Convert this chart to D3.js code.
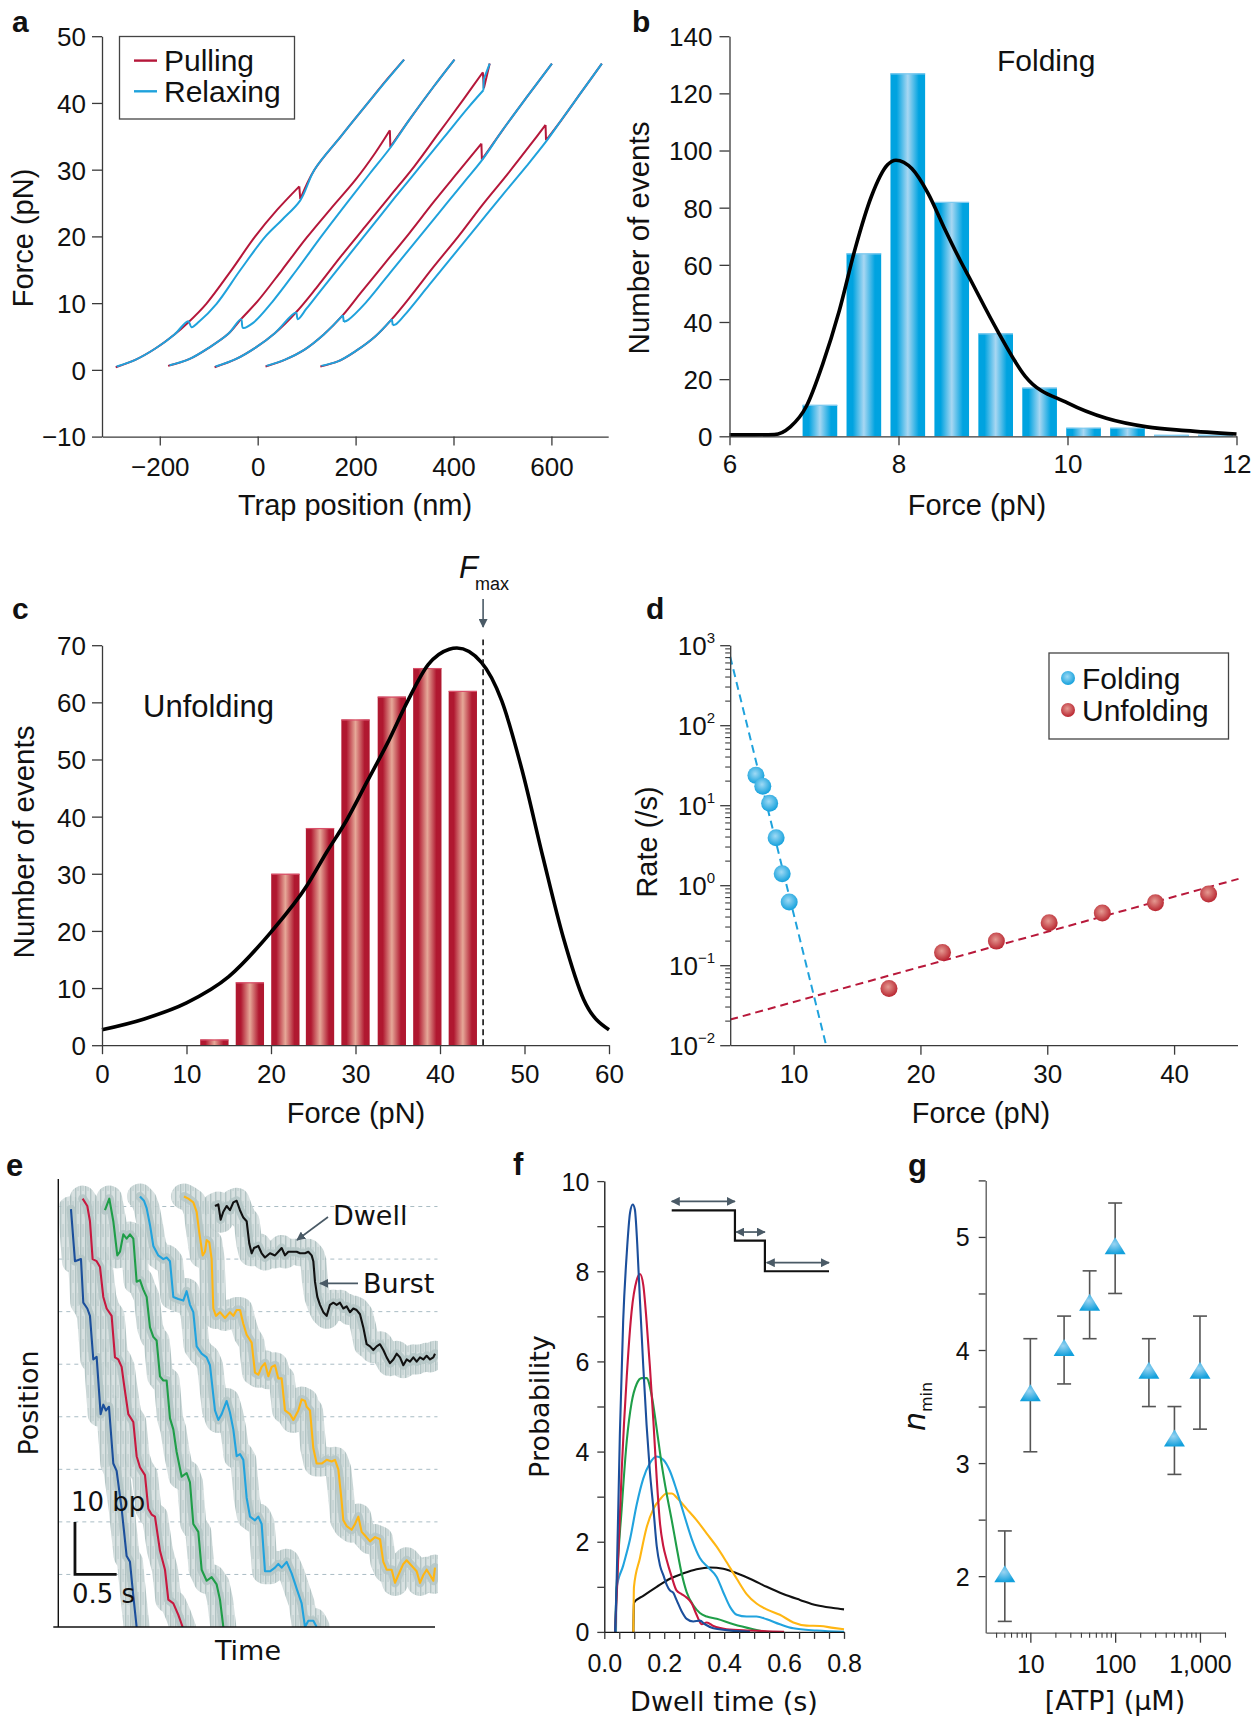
<!DOCTYPE html>
<html><head><meta charset="utf-8">
<script src="https://cdn.jsdelivr.net/npm/d3@7"></script>
<style>body{margin:0;background:#fff}svg{display:block}</style>
</head><body>
<svg id="c" width="1256" height="1724"></svg>
<script>
// ---------------- DATA ----------------
// panel a: force-extension cycles [trap position nm, force pN]
const aPull1 = [[-290,0.4],[-250,1.5],[-209,3.2],[-170,5.3],[-142,7.1],[-105,9.9],[-55,14.8],[-5,20],[40,24],[85,27.5],[87,25.6],[116,30],[170,35],[224,39.9],[265,43.6],[299,46.5]];
const aRelax1 = [[299,46.5],[224,39.9],[170,35],[116,30],[87,25.4],[50,22.5],[16,20],[-35,15],[-84,9.9],[-120,7.2],[-135,6.4],[-142,7.3],[-170,5.3],[-209,3.2],[-250,1.5],[-288,0.5]];
const aPull2 = [[-183,0.6],[-140,1.6],[-100,3.3],[-60,5.4],[-34,7.6],[0,10.3],[50,15],[100,19.8],[150,24.2],[200,28.5],[240,32.5],[270,35.9],[271,33.4],[310,37.5],[360,42.5],[402,46.5]];
const aRelax2 = [[402,46.5],[360,42.5],[310,37.5],[272,33.4],[230,29.5],[180,24.8],[130,20],[80,15],[30,10.2],[-10,7],[-30,6.3],[-34,7.6],[-60,5.4],[-100,3.3],[-140,1.6],[-180,0.7]];
const aPull3 = [[-88,0.4],[-45,1.6],[-5,3.3],[35,5.5],[78,8.6],[120,12.3],[170,17],[220,21.5],[270,26],[320,30.5],[370,35.5],[420,40.5],[460,44.6],[462,42.2],[474,45.9]];
const aRelax3 = [[474,45.9],[462,43.6],[461,41.9],[430,39.3],[380,34.8],[330,30.3],[280,25.8],[230,21.2],[180,16.6],[130,12],[100,9.2],[82,7.6],[78,8.6],[35,5.5],[-5,3.3],[-45,1.6],[-86,0.5]];
const aPull4 = [[16,0.5],[55,1.5],[95,3],[135,5.3],[174,8.2],[210,11.5],[260,16],[310,20.5],[360,25.2],[410,29.7],[457,33.9],[458,31.5],[500,35.9],[550,40.9],[601,45.9]];
const aRelax4 = [[601,45.9],[550,40.9],[500,35.9],[459,31.5],[420,28],[370,23.5],[320,19],[270,14.5],[220,10],[185,7.5],[176,7.2],[174,8.2],[135,5.3],[95,3],[55,1.5],[18,0.6]];
const aPull5 = [[128,0.5],[165,1.3],[200,2.8],[240,5],[274,7.6],[310,10.8],[360,15.5],[410,20],[460,24.8],[510,29.3],[560,34],[588,36.7],[589,34.4],[620,37.4],[660,41.5],[703,45.9]];
const aRelax5 = [[703,45.9],[660,41.5],[620,37.4],[590,34.3],[550,30.6],[500,26.2],[450,21.7],[400,17.2],[350,12.7],[300,8.2],[282,6.8],[276,6.7],[274,7.6],[240,5],[200,2.8],[165,1.3],[130,0.6]];
const aXTicks = [-200,0,200,400,600];
const aYTicks = [-10,0,10,20,30,40,50];

// panel b: folding force histogram
const bBinCenters = [7.07,7.59,8.11,8.63,9.15,9.67,10.19,10.71,11.23,11.75];
const bCounts = [11,64,127,82,36,17,3,3,0.5,0.5];
const bFitF = [6,6.3,6.53,6.72,6.91,7.1,7.3,7.49,7.68,7.87,7.97,8.16,8.35,8.54,8.74,8.83,9.17,9.5,10,10.46,10.94,11.4,12];
const bFitN = [0.5,0.5,0.6,3.3,10.5,25,44,66,84,95,96.6,93.6,85,73,61,56,37,21,11.7,6.3,3.3,2,0.8];
const bXTicks = [6,8,10,12];
const bYTicks = [0,20,40,60,80,100,120,140];

// panel c: unfolding force histogram
const cBinCenters = [13.3,17.5,21.7,25.8,30.0,34.3,38.5,42.7];
const cCounts = [1,11,30,38,57,61,66,62];
const cFitF = [0,5,10,15,20,24.2,26.6,29,31.4,33.8,36.2,38.6,41.1,42,44.9,47.3,49.7,52.2,54.6,57,60];
const cFitN = [2.7,4.6,7.4,12,19.8,27.8,33.8,39.5,46.2,52.9,60.3,66.6,69.3,69.5,67,60.3,48.2,32.8,18.8,8,2.7];
const cFmax = 45.1;
const cXTicks = [0,10,20,30,40,50,60];
const cYTicks = [0,10,20,30,40,50,60,70];

// panel d: rates
const dFoldF = [7.03,7.57,8.11,8.62,9.10,9.65];
const dFoldRate = [23.6,17.3,10.6,3.92,1.39,0.616];
const dUnfoldF = [17.52,21.74,25.99,30.15,34.34,38.53,42.72];
const dUnfoldRate = [0.051,0.144,0.2,0.34,0.448,0.603,0.776];
const dFoldFit = [[5.0,718],[12.56,0.01]];
const dUnfoldFit = [[5.0,0.0209],[45.08,1.2]];
const dXTicks = [10,20,30,40];
const dYExp = [-2,-1,0,1,2,3];

// panel e: traces [time s, position bp]
const eDarkBlue = [[0.152,79.5],[0.2,69.6],[0.272,70.0],[0.3,61.7],[0.348,60.6],[0.38,59.2],[0.42,50.9],[0.46,51.4],[0.508,40.5],[0.54,42.3],[0.572,41.2],[0.608,41.9],[0.66,31.1],[0.7,29.7],[0.76,22.5],[0.82,13.5],[0.86,12.4],[0.9,5.9],[0.94,0]];
const eRed = [[0.292,81.5],[0.348,80.1],[0.38,77.2],[0.412,70.0],[0.46,69.6],[0.5,68.5],[0.54,62.8],[0.58,60.6],[0.64,59.2],[0.68,51.3],[0.72,50.9],[0.76,49.5],[0.788,46.2],[0.84,40.5],[0.9,39.0],[0.94,32.5],[0.98,30.4],[1.04,28.9],[1.08,22.5],[1.12,21.4],[1.16,21.0],[1.22,14.5],[1.28,10.9],[1.32,5.2],[1.38,4.5],[1.44,2.3],[1.492,0]];
const eGreen = [[0.56,79.3],[0.612,81.5],[0.66,77.2],[0.708,70.7],[0.74,71.4],[0.78,74.7],[0.82,73.9],[0.86,74.7],[0.9,73.9],[0.94,65.7],[0.98,66.0],[1.02,64.2],[1.06,62.8],[1.1,57.0],[1.14,55.2],[1.18,54.5],[1.22,47.7],[1.26,46.9],[1.3,46.9],[1.34,39.7],[1.38,37.6],[1.42,33.3],[1.48,28.6],[1.54,29.3],[1.58,27.5],[1.62,19.6],[1.68,18.1],[1.72,10.9],[1.78,8.8],[1.84,9.5],[1.9,8.1],[1.94,5.2],[1.98,0]];
const eLightBlue = [[0.98,81.9],[1.028,81.1],[1.06,79.7],[1.1,76.5],[1.14,72.5],[1.2,70.7],[1.26,70.0],[1.3,70.3],[1.34,69.6],[1.38,62.8],[1.44,62.4],[1.5,62.1],[1.54,63.9],[1.58,61.3],[1.62,59.9],[1.66,53.4],[1.72,52.0],[1.78,51.3],[1.82,49.8],[1.88,41.2],[1.92,39.4],[1.96,40.5],[2.02,43.0],[2.06,40.8],[2.1,37.6],[2.14,32.5],[2.18,32.9],[2.22,31.8],[2.26,24.6],[2.3,21.0],[2.36,20.3],[2.4,21.0],[2.44,19.6],[2.48,10.6],[2.54,10.6],[2.6,11.3],[2.64,12.0],[2.68,11.3],[2.74,12.4],[2.8,10.2],[2.86,7.3],[2.92,4.5],[2.96,0],[3.0,1.2],[3.06,1.2],[3.1,0]];
const eYellow = [[1.508,81.9],[1.56,81.5],[1.62,80.8],[1.66,79.0],[1.692,75.0],[1.732,70.7],[1.76,71.4],[1.78,73.6],[1.812,73.2],[1.84,70.0],[1.86,60.6],[1.892,59.2],[1.94,59.9],[2.0,58.8],[2.06,59.9],[2.1,59.2],[2.14,60.3],[2.18,60.3],[2.22,57.7],[2.26,55.6],[2.32,54.1],[2.36,48.4],[2.4,48.0],[2.44,49.5],[2.48,50.2],[2.52,47.7],[2.56,49.5],[2.6,49.8],[2.64,47.3],[2.68,47.3],[2.72,41.2],[2.78,40.5],[2.82,39.4],[2.88,41.2],[2.92,43.3],[2.96,43.0],[2.98,41.9],[3.02,41.2],[3.06,34.0],[3.1,31.1],[3.16,31.1],[3.22,31.8],[3.28,31.5],[3.32,31.8],[3.36,30.0],[3.4,23.9],[3.42,20.3],[3.46,19.2],[3.52,18.5],[3.56,19.6],[3.6,21.0],[3.64,18.1],[3.68,17.4],[3.74,16.3],[3.8,17.1],[3.86,16.7],[3.9,12.4],[3.94,10.9],[4.0,10.9],[4.04,8.4],[4.08,9.9],[4.14,12.0],[4.18,12.7],[4.22,12.0],[4.3,10.6],[4.34,8.4],[4.38,9.9],[4.42,10.9],[4.46,9.9],[4.5,8.8],[4.52,11.3]];
const eBlack = [[1.88,80.1],[1.92,80.4],[1.948,77.5],[1.98,79.0],[2.02,80.1],[2.06,79.3],[2.1,80.8],[2.14,81.1],[2.18,79.3],[2.22,77.9],[2.26,77.2],[2.292,72.9],[2.32,71.1],[2.348,72.1],[2.4,72.5],[2.44,71.1],[2.48,70.3],[2.54,71.1],[2.6,70.7],[2.64,71.4],[2.68,72.1],[2.72,70.7],[2.76,71.4],[2.82,71.4],[2.86,71.4],[2.9,71.1],[2.96,71.1],[3.0,71.4],[3.04,70.7],[3.06,69.6],[3.08,65.7],[3.108,62.8],[3.14,61.3],[3.18,59.9],[3.22,59.2],[3.26,61.3],[3.3,61.7],[3.34,61.3],[3.38,61.7],[3.42,60.6],[3.46,61.0],[3.5,59.9],[3.54,60.6],[3.58,60.3],[3.62,59.5],[3.66,57.0],[3.7,53.8],[3.74,53.4],[3.78,52.7],[3.82,53.4],[3.86,53.8],[3.9,52.7],[3.94,51.3],[3.98,50.2],[4.02,50.9],[4.06,52.0],[4.1,51.3],[4.14,49.8],[4.18,50.9],[4.22,50.5],[4.26,51.3],[4.3,50.5],[4.34,51.3],[4.38,50.9],[4.42,51.6],[4.46,50.9],[4.5,51.3],[4.52,52.0]];
const eGridBp = [10,20,30,40,50,60,70,80];

// panel f: dwell-time distributions [time s, probability]
const fDarkBlue = [[0.036,0],[0.041,1.05],[0.052,4.4],[0.063,6.9],[0.075,8.4],[0.086,9.3],[0.095,9.48],[0.102,9.37],[0.11,8.6],[0.119,7.35],[0.13,5.9],[0.141,4.6],[0.152,3.57],[0.164,2.73],[0.175,1.9],[0.186,1.47],[0.197,1.26],[0.208,1.05],[0.219,0.92],[0.23,0.87],[0.241,0.71],[0.258,0.46],[0.275,0.29],[0.297,0.23],[0.319,0.25],[0.336,0.17],[0.364,0.08],[0.408,0.04],[0.486,0]];
const fRed = [[0.036,0],[0.043,1.05],[0.058,3.57],[0.075,5.67],[0.091,7.1],[0.108,7.8],[0.119,7.94],[0.13,7.7],[0.141,6.9],[0.152,5.9],[0.164,4.66],[0.175,3.4],[0.186,2.4],[0.197,1.9],[0.208,1.6],[0.225,1.22],[0.241,0.92],[0.258,0.84],[0.275,0.76],[0.292,0.63],[0.308,0.38],[0.325,0.17],[0.342,0.21],[0.364,0.13],[0.408,0.06],[0.486,0.03],[0.6,0]];
const fGreen = [[0.036,0],[0.041,0.97],[0.058,2.73],[0.075,4.24],[0.091,5.08],[0.108,5.5],[0.125,5.63],[0.141,5.63],[0.158,5.25],[0.175,4.5],[0.191,3.74],[0.208,3.07],[0.225,2.48],[0.241,1.89],[0.258,1.3],[0.275,0.88],[0.297,0.59],[0.319,0.42],[0.342,0.34],[0.375,0.29],[0.431,0.17],[0.497,0.06],[0.54,0]];
const fLightBlue = [[0.039,0],[0.041,0.97],[0.063,1.47],[0.086,2.06],[0.108,2.82],[0.13,3.4],[0.152,3.74],[0.175,3.89],[0.197,3.82],[0.219,3.57],[0.241,3.15],[0.264,2.65],[0.292,2.06],[0.319,1.64],[0.347,1.43],[0.375,1.22],[0.397,0.88],[0.42,0.55],[0.442,0.38],[0.475,0.34],[0.508,0.34],[0.542,0.28],[0.586,0.17],[0.631,0.08],[0.709,0.03],[0.8,0]];
const fYellow = [[0.097,0],[0.099,1.0],[0.119,1.64],[0.141,2.31],[0.164,2.73],[0.186,2.94],[0.208,3.07],[0.225,3.07],[0.247,2.94],[0.275,2.73],[0.308,2.48],[0.342,2.18],[0.375,1.89],[0.408,1.55],[0.442,1.18],[0.475,0.84],[0.508,0.63],[0.542,0.5],[0.586,0.38],[0.631,0.21],[0.675,0.14],[0.72,0.13],[0.764,0.09],[0.8,0.06]];
const fBlack = [[0.097,0],[0.099,0.65],[0.13,0.8],[0.175,1.0],[0.219,1.18],[0.264,1.3],[0.308,1.39],[0.353,1.43],[0.397,1.4],[0.442,1.3],[0.486,1.18],[0.542,1.0],[0.597,0.84],[0.653,0.71],[0.709,0.59],[0.764,0.53],[0.8,0.5]];
const fStepT = [0.225,0.436,0.436,0.536,0.536,0.75];
const fStepP = [9.35,9.35,8.68,8.68,8.0,8.0];
const fArrows = [[0.225,0.436,9.55],[0.44,0.536,8.87],[0.542,0.75,8.19]];
const fXTicks = [0,0.2,0.4,0.6,0.8];
const fYTicks = [0,2,4,6,8,10];

// panel g: n_min vs ATP
const gATP = [5,10,25,50,100,250,500,1000];
const gNmin = [2.0,3.6,4.0,4.4,4.9,3.8,3.2,3.8];
const gLow = [1.6,3.1,3.7,4.1,4.5,3.5,2.9,3.3];
const gHigh = [2.4,4.1,4.3,4.7,5.3,4.1,3.5,4.3];
const gXTicks = [10,100,1000];
const gYTicks = [2,3,4,5];

// ---------------- DRAWING ----------------
const svg = d3.select('#c');
const SANS = '"Liberation Sans",Arial,sans-serif';
const LUC = '"DejaVu Sans","Noto Sans",sans-serif';
const AX = '#3a3a3a';
const COL = {pull:'#b5173a', relax:'#1fa2dc', dblue:'#1b4f9c', red:'#c8183f', green:'#1f9e48', lblue:'#21a3de', yellow:'#ffb612', black:'#111'};

const defs = svg.append('defs');
function hgrad(id, edge, mid){
  const g = defs.append('linearGradient').attr('id',id).attr('x1','0').attr('x2','1').attr('y1','0').attr('y2','0');
  [[0,edge],[0.18,edge],[0.5,mid],[0.82,edge],[1,edge]].forEach(s=>g.append('stop').attr('offset',s[0]).attr('stop-color',s[1]));
}
hgrad('gb','#00a3e0','#a8d7f2');
hgrad('gc','#b01830','#e6a898');
function rgrad(id, light, dark){
  const g = defs.append('radialGradient').attr('id',id).attr('cx','0.45').attr('cy','0.4').attr('r','0.6');
  g.append('stop').attr('offset',0).attr('stop-color',light);
  g.append('stop').attr('offset',1).attr('stop-color',dark);
}
rgrad('rb','#9fdaf5','#12a0dc');
rgrad('rr','#e59a92','#b8242f');
rgrad('rt','#9ad4f2','#12a0dc');
defs.append('marker').attr('id','arr').attr('viewBox','0 0 10 10').attr('refX',9).attr('refY',5)
  .attr('markerWidth',9).attr('markerHeight',9).attr('markerUnits','userSpaceOnUse').attr('orient','auto-start-reverse')
  .append('path').attr('d','M0,0L10,5L0,10Z').attr('fill','#4a5a66');
{
  const p = defs.append('pattern').attr('id','hair').attr('patternUnits','userSpaceOnUse').attr('width',5).attr('height',23);
  p.append('rect').attr('width',5).attr('height',23).attr('fill','#d4dede');
  p.append('rect').attr('x',0).attr('y',0).attr('width',1.4).attr('height',23).attr('fill','#a9bdbd');
  p.append('rect').attr('x',2.5).attr('y',5).attr('width',1.1).attr('height',13).attr('fill','#b6c8c8');
}

function styleAxis(g, font, fsize){
  g.select('.domain').attr('stroke',AX).attr('stroke-width',1.3);
  g.selectAll('.tick line').attr('stroke',AX).attr('stroke-width',1.3);
  g.selectAll('.tick text').attr('font-family',font).attr('font-size',fsize).attr('fill','#111');
}
function bottomAxis(scale, y, values, fmt, size, base, font, fsize){
  const g = svg.append('g').attr('transform',`translate(0,${y})`)
    .call(d3.axisBottom(scale).tickValues(values).tickFormat(fmt).tickSize(size).tickSizeOuter(0));
  styleAxis(g,font,fsize);
  g.selectAll('.tick text').attr('dy',null).attr('y',base);
  return g;
}
function leftAxis(scale, x, values, fmt, size, off, font, fsize){
  const g = svg.append('g').attr('transform',`translate(${x},0)`)
    .call(d3.axisLeft(scale).tickValues(values).tickFormat(fmt).tickSize(size).tickSizeOuter(0));
  styleAxis(g,font,fsize);
  g.selectAll('.tick text').attr('x',off).attr('dy','0.36em');
  return g;
}
function text(x,y,s,opt){
  const t = svg.append('text').attr('x',x).attr('y',y).text(s)
    .attr('font-family',opt.font||SANS).attr('font-size',opt.size||29).attr('fill',opt.fill||'#111');
  if(opt.anchor) t.attr('text-anchor',opt.anchor);
  if(opt.weight) t.attr('font-weight',opt.weight);
  if(opt.style) t.attr('font-style',opt.style);
  if(opt.rot) t.attr('transform',`rotate(-90,${x},${y})`);
  return t;
}
function minorTicks(g, pos, len, horizontal){
  pos.forEach(p=>{
    if(horizontal) g.append('line').attr('x1',p).attr('x2',p).attr('y1',0).attr('y2',len).attr('stroke',AX).attr('stroke-width',1.1);
    else g.append('line').attr('y1',p).attr('y2',p).attr('x1',0).attr('x2',-len).attr('stroke',AX).attr('stroke-width',1.1);
  });
}

// ===== Panel a =====
{
  const x = d3.scaleLinear().domain([-318,716]).range([102,608.2]);
  const y = d3.scaleLinear().domain([-10,50]).range([436.6,36.2]);
  const smooth = d3.line().x(d=>x(d[0])).y(d=>y(d[1])).curve(d3.curveCatmullRom.alpha(0.5));
  const straight = d3.line().x(d=>x(d[0])).y(d=>y(d[1]));
  // smooth runs, with rips/refolding jumps (steps < 4 nm) drawn as straight segments
  function tracePath(d){
    const runs = []; let cur = [d[0]];
    for(let i=1;i<d.length;i++){
      if(Math.abs(d[i][0]-d[i-1][0])<4){ runs.push(cur); runs.push([d[i-1],d[i]]); cur=[d[i]]; }
      else cur.push(d[i]);
    }
    runs.push(cur);
    return runs.filter(r=>r.length>1).map((r,i)=>(r.length===2?straight(r):smooth(r))).join('');
  }
  const g = svg.append('g');
  [aPull1,aPull2,aPull3,aPull4,aPull5].forEach(d=>g.append('path').attr('d',tracePath(d)).attr('fill','none').attr('stroke',COL.pull).attr('stroke-width',2).attr('stroke-linejoin','round'));
  [aRelax1,aRelax2,aRelax3,aRelax4,aRelax5].forEach(d=>g.append('path').attr('d',tracePath(d)).attr('fill','none').attr('stroke',COL.relax).attr('stroke-width',2).attr('stroke-linejoin','round'));
  bottomAxis(x, 436.6, aXTicks, d3.format('d'), 9, 39, SANS, 26);
  leftAxis(y, 102, aYTicks, d3.format('d'), 10, -16, SANS, 26);
  svg.append('rect').attr('x',119.5).attr('y',36.5).attr('width',175).attr('height',82.5).attr('fill','#fff').attr('stroke','#444').attr('stroke-width',1.3);
  svg.append('line').attr('x1',134).attr('x2',157).attr('y1',60.6).attr('y2',60.6).attr('stroke',COL.pull).attr('stroke-width',2.4);
  svg.append('line').attr('x1',134).attr('x2',157).attr('y1',91.3).attr('y2',91.3).attr('stroke',COL.relax).attr('stroke-width',2.4);
  text(164,70.5,'Pulling',{size:30});
  text(164,102,'Relaxing',{size:30});
  text(355,515,'Trap position (nm)',{size:29,anchor:'middle'});
  text(33,238,'Force (pN)',{size:29,anchor:'middle',rot:true});
  text(12,32,'a',{size:30,weight:'bold'});
}

// ===== Panel b =====
{
  const x = d3.scaleLinear().domain([6,12]).range([729.5,1236.5]);
  const y = d3.scaleLinear().domain([0,140]).range([436.3,36.2]);
  const bw = x(6.41)-x(6);
  const g = svg.append('g');
  bBinCenters.forEach((c,i)=>{
    g.append('rect').attr('x',x(c)-bw/2).attr('y',y(bCounts[i])).attr('width',bw).attr('height',y(0)-y(bCounts[i])).attr('fill','url(#gb)');
    g.append('line').attr('x1',x(c)-bw/2).attr('x2',x(c)+bw/2).attr('y1',y(bCounts[i])+0.5).attr('y2',y(bCounts[i])+0.5).attr('stroke','#7fcaef').attr('stroke-width',1.2);
  });
  const line = d3.line().x((d,i)=>x(bFitF[i])).y((d,i)=>y(bFitN[i])).curve(d3.curveMonotoneX);
  g.append('path').attr('d',line(bFitF)).attr('fill','none').attr('stroke','#000').attr('stroke-width',3.6);
  bottomAxis(x, 436.3, bXTicks, d3.format('d'), 9, 37, SANS, 26);
  leftAxis(y, 729.5, bYTicks, d3.format('d'), 10, -17, SANS, 26);
  text(997,70.5,'Folding',{size:30});
  text(977,515,'Force (pN)',{size:29,anchor:'middle'});
  text(649,238,'Number of events',{size:29.5,anchor:'middle',rot:true});
  text(632,32,'b',{size:30,weight:'bold'});
}

// ===== Panel c =====
{
  const x = d3.scaleLinear().domain([0,60]).range([102,609]);
  const y = d3.scaleLinear().domain([0,70]).range([1045.2,645.2]);
  const bw = x(3.35)-x(0);
  const g = svg.append('g');
  cBinCenters.forEach((c,i)=>{
    g.append('rect').attr('x',x(c)-bw/2).attr('y',y(cCounts[i])).attr('width',bw).attr('height',y(0)-y(cCounts[i])).attr('fill','url(#gc)');
    g.append('line').attr('x1',x(c)-bw/2).attr('x2',x(c)+bw/2).attr('y1',y(cCounts[i])+0.5).attr('y2',y(cCounts[i])+0.5).attr('stroke','#d9506a').attr('stroke-width',1.2);
  });
  const line = d3.line().x((d,i)=>x(cFitF[i])).y((d,i)=>y(cFitN[i])).curve(d3.curveMonotoneX);
  g.append('path').attr('d',line(cFitF)).attr('fill','none').attr('stroke','#000').attr('stroke-width',3.6);
  g.append('line').attr('x1',x(cFmax)).attr('x2',x(cFmax)).attr('y1',y(0)).attr('y2',y(71)).attr('stroke','#111').attr('stroke-width',1.6).attr('stroke-dasharray','6,4');
  svg.append('line').attr('x1',x(cFmax)).attr('x2',x(cFmax)).attr('y1',599).attr('y2',627).attr('stroke','#4a5a66').attr('stroke-width',1.6).attr('marker-end','url(#arr)');
  text(459,578,'F',{size:31,style:'italic'});
  text(475,590,'max',{size:18});
  bottomAxis(x, 1045.2, cXTicks, d3.format('d'), 9, 37.5, SANS, 26);
  leftAxis(y, 102, cYTicks, d3.format('d'), 10, -16, SANS, 26);
  text(143,717,'Unfolding',{size:31});
  text(356,1122.5,'Force (pN)',{size:29,anchor:'middle'});
  text(33.5,842,'Number of events',{size:29.5,anchor:'middle',rot:true});
  text(12,618.5,'c',{size:30,weight:'bold'});
}

// ===== Panel d =====
{
  const x = d3.scaleLinear().domain([5,45]).range([730.2,1237.5]);
  const y = d3.scaleLog().domain([0.01,1000]).range([1045.2,645.2]);
  const g = svg.append('g');
  const line = d3.line().x(d=>x(d[0])).y(d=>y(d[1]));
  g.append('path').attr('d',line(dFoldFit)).attr('stroke',COL.relax).attr('stroke-width',2).attr('stroke-dasharray','8,5').attr('fill','none');
  g.append('path').attr('d',line(dUnfoldFit)).attr('stroke','#b8183a').attr('stroke-width',2).attr('stroke-dasharray','8,5').attr('fill','none');
  dFoldF.forEach((f,i)=>g.append('circle').attr('cx',x(f)).attr('cy',y(dFoldRate[i])).attr('r',8.5).attr('fill','url(#rb)'));
  dUnfoldF.forEach((f,i)=>g.append('circle').attr('cx',x(f)).attr('cy',y(dUnfoldRate[i])).attr('r',8.5).attr('fill','url(#rr)'));
  bottomAxis(x, 1045.2, dXTicks, d3.format('d'), 9.5, 37.5, SANS, 26);
  const majors = dYExp.map(e=>Math.pow(10,e));
  const ga = leftAxis(y, 730.2, majors, ()=>'', 10, -16, SANS, 26);
  const minors = [];
  for(let e=-2;e<3;e++) for(let k=2;k<10;k++) minors.push(y(k*Math.pow(10,e)));
  minorTicks(ga, minors, 5, false);
  dYExp.forEach(e=>{
    const t = svg.append('text').attr('x',715).attr('y',y(Math.pow(10,e))+10).attr('text-anchor','end').attr('font-family',SANS).attr('fill','#111');
    t.append('tspan').attr('font-size',26).text('10');
    t.append('tspan').attr('font-size',15).attr('dy',-12).text(e<0?'\u2212'+(-e):String(e));
  });
  svg.append('rect').attr('x',1049).attr('y',653).attr('width',179.5).attr('height',86).attr('fill','#fff').attr('stroke','#444').attr('stroke-width',1.3);
  svg.append('circle').attr('cx',1068).attr('cy',678).attr('r',7).attr('fill','url(#rb)');
  svg.append('circle').attr('cx',1068).attr('cy',710).attr('r',7).attr('fill','url(#rr)');
  text(1082,688.5,'Folding',{size:30});
  text(1082,721,'Unfolding',{size:30});
  text(981,1122.5,'Force (pN)',{size:29,anchor:'middle'});
  text(656.5,842,'Rate (/s)',{size:29,anchor:'middle',rot:true});
  text(646,618.5,'d',{size:30,weight:'bold'});
}

// ===== Panel e =====
{
  const x = d3.scaleLinear().domain([0,4.52]).range([58.3,435]);
  const y = d3.scaleLinear().domain([0,85.2]).range([1627,1179.2]);
  const g = svg.append('g');
  eGridBp.forEach(b=>g.append('line').attr('x1',x(0)).attr('x2',x(4.55)).attr('y1',y(b)).attr('y2',y(b)).attr('stroke','#a9bcc4').attr('stroke-width',1).attr('stroke-dasharray','4,4'));
  const line = d3.line().x(d=>x(d[0])).y(d=>y(d[1]));
  const traces = [[eDarkBlue,COL.dblue],[eRed,COL.red],[eGreen,COL.green],[eLightBlue,COL.lblue],[eYellow,COL.yellow],[eBlack,COL.black]];
  const clip = defs.append('clipPath').attr('id','eclip');
  clip.append('rect').attr('x',x(0)+1).attr('y',1172).attr('width',x(4.52)-x(0)+2).attr('height',y(0)-1172);
  const gc = g.append('g').attr('clip-path','url(#eclip)');
  traces.forEach(t=>gc.append('path').attr('d',line(t[0])).attr('fill','none').attr('stroke','url(#hair)').attr('stroke-width',26).attr('stroke-linejoin','round').attr('stroke-linecap','round').attr('opacity',0.9));
  traces.forEach(t=>gc.append('path').attr('d',line(t[0])).attr('fill','none').attr('stroke','#b4c5c5').attr('stroke-width',9).attr('stroke-linejoin','round').attr('stroke-linecap','round').attr('opacity',0.85));
  traces.forEach(t=>gc.append('path').attr('d',line(t[0])).attr('fill','none').attr('stroke',t[1]).attr('stroke-width',2.1).attr('stroke-linejoin','round'));
  svg.append('line').attr('x1',x(0)).attr('x2',x(0)).attr('y1',1179).attr('y2',y(0)).attr('stroke','#111').attr('stroke-width',1.4);
  svg.append('line').attr('x1',x(-0.06)).attr('x2',x(4.52)).attr('y1',y(0)).attr('y2',y(0)).attr('stroke','#111').attr('stroke-width',1.4);
  svg.append('path').attr('d',`M${x(0.2)},${y(20)}V${y(10)}H${x(0.7)}`).attr('fill','none').attr('stroke','#111').attr('stroke-width',2.8);
  text(71,1511,'10 bp',{font:LUC,size:26});
  text(72,1603,'0.5 s',{font:LUC,size:26});
  text(333,1225,'Dwell',{font:LUC,size:27});
  text(363,1293,'Burst',{font:LUC,size:27});
  svg.append('line').attr('x1',328).attr('y1',1217).attr('x2',297).attr('y2',1240).attr('stroke','#4a5a66').attr('stroke-width',1.6).attr('marker-end','url(#arr)');
  svg.append('line').attr('x1',358).attr('y1',1283.4).attr('x2',320).attr('y2',1283.4).attr('stroke','#4a5a66').attr('stroke-width',1.6).attr('marker-end','url(#arr)');
  text(248,1659.5,'Time',{font:LUC,size:27,anchor:'middle'});
  text(37.5,1403,'Position',{font:LUC,size:27,anchor:'middle',rot:true});
  text(6,1175.5,'e',{size:31,weight:'bold'});
}

// ===== Panel f =====
{
  const x = d3.scaleLinear().domain([0,0.8]).range([604.3,844]);
  const y = d3.scaleLinear().domain([0,10]).range([1631.9,1181.1]);
  const g = svg.append('g');
  const line = d3.line().x(d=>x(d[0])).y(d=>y(d[1])).curve(d3.curveMonotoneX);
  [[fBlack,COL.black],[fYellow,COL.yellow],[fLightBlue,COL.lblue],[fGreen,COL.green],[fRed,COL.red],[fDarkBlue,COL.dblue]].forEach(t=>
    g.append('path').attr('d',line(t[0])).attr('fill','none').attr('stroke',t[1]).attr('stroke-width',2.1));
  const xt = d3.range(0,0.8001,0.05);
  const ax = bottomAxis(x, 1631.9, xt, v=>fXTicks.some(t=>Math.abs(t-v)<1e-6)?d3.format('.1f')(v):'', 7, 40.5, SANS, 25);
  const ay = leftAxis(y, 604.3, d3.range(0,10.001,1), v=>(Math.abs(v-Math.round(v))<1e-6 && fYTicks.includes(Math.round(v)))?String(Math.round(v)):'', 7, -15, SANS, 25);
  ax.select('.domain').attr('stroke','#111'); ay.select('.domain').attr('stroke','#111');
  const sl = d3.line().x((d,i)=>x(fStepT[i])).y((d,i)=>y(fStepP[i]));
  g.append('path').attr('d',sl(fStepT)).attr('fill','none').attr('stroke','#111').attr('stroke-width',2.2);
  fArrows.forEach(a=>g.append('line').attr('x1',x(a[0])).attr('x2',x(a[1])).attr('y1',y(a[2])).attr('y2',y(a[2]))
    .attr('stroke','#4a5a66').attr('stroke-width',1.7).attr('marker-end','url(#arr)').attr('marker-start','url(#arr)'));
  text(724,1710.5,'Dwell time (s)',{font:LUC,size:27,anchor:'middle'});
  text(548.5,1406.5,'Probability',{font:LUC,size:27,anchor:'middle',rot:true});
  text(513,1175,'f',{size:31,weight:'bold'});
}

// ===== Panel g =====
{
  const x = d3.scaleLog().domain([3,2000]).range([986,1225.5]);
  const y = d3.scaleLinear().domain([1.5,5.5]).range([1632.7,1180.4]);
  const g = svg.append('g');
  const ax = bottomAxis(x, 1632.7, gXTicks, d3.format(','), 10, 40, SANS, 25);
  const minors = [];
  [1,10,100,1000].forEach(dec=>{for(let k=2;k<10;k++){const v=k*dec; if(v>3 && v<=2000 && v!==10&&v!==100&&v!==1000) minors.push(x(v));}});
  minorTicks(ax, minors, 5, true);
  const ay = leftAxis(y, 985.7, [2,2.5,3,3.5,4,4.5,5,5.5], v=>Number.isInteger(v)?String(v):'', 7, -16, SANS, 25);
  ax.select('.domain').attr('stroke','#555'); ay.select('.domain').attr('stroke','#555');
  gATP.forEach((a,i)=>{
    const cx = x(a);
    g.append('line').attr('x1',cx).attr('x2',cx).attr('y1',y(gLow[i])).attr('y2',y(gHigh[i])).attr('stroke','#555').attr('stroke-width',1.6);
    [gLow[i],gHigh[i]].forEach(v=>g.append('line').attr('x1',cx-7).attr('x2',cx+7).attr('y1',y(v)).attr('y2',y(v)).attr('stroke','#555').attr('stroke-width',1.6));
  });
  gATP.forEach((a,i)=>{
    const cx = x(a), cy = y(gNmin[i]);
    g.append('path').attr('d',`M${cx},${cy-11}L${cx+10.5},${cy+6}L${cx-10.5},${cy+6}Z`).attr('fill','url(#rt)');
  });
  text(1115,1709.5,'[ATP] (\u03bcM)',{font:LUC,size:27,anchor:'middle'});
  const t = svg.append('text').attr('transform','translate(925,1406.5) rotate(-90)').attr('text-anchor','middle').attr('font-family',LUC).attr('fill','#111');
  t.append('tspan').attr('font-size',30).attr('font-style','italic').text('n');
  t.append('tspan').attr('font-size',16).attr('dy',7).text('min');
  text(908,1175.5,'g',{size:31,weight:'bold'});
}
</script>
</body></html>
